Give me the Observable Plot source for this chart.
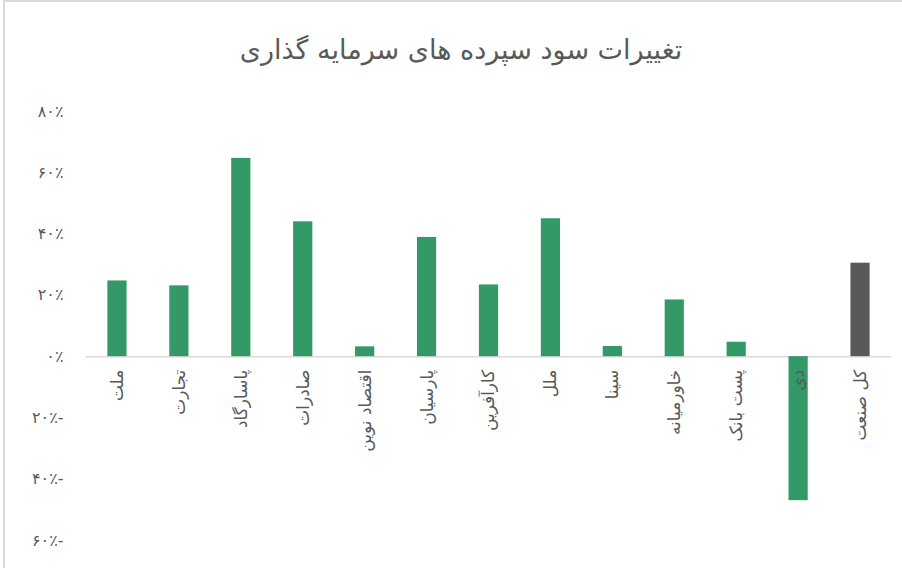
<!DOCTYPE html>
<html>
<head>
<meta charset="utf-8">
<script src="https://cdn.jsdelivr.net/npm/d3@7"></script>
<script src="https://cdn.jsdelivr.net/npm/@observablehq/plot@0.6"></script>
<style>
  html, body { margin: 0; padding: 0; background: #fff; }
  #wrap { position: relative; width: 902px; height: 568px; overflow: hidden; background: #fff; }
  #frame { position: absolute; left: 3px; top: 0; width: 910px; height: 580px; border-top: 2px solid #d9d9d9; border-left: 2px solid #d9d9d9; box-sizing: border-box; pointer-events: none; }
  #title { height: 95px; display: flex; align-items: center; justify-content: center; padding-left: 20px; padding-top: 4px; box-sizing: border-box;
           font-family: "DejaVu Sans", sans-serif; font-size: 27px; color: #595959; direction: rtl; }
</style>
</head>
<body>
<div id="wrap">
  <div id="frame"></div>
  <div id="title">تغییرات سود سپرده های سرمایه گذاری</div>
  <div id="chart"></div>
</div>
<script>
const banks = ["ملت", "تجارت", "پاسارگاد", "صادرات", "اقتصاد نوین", "پارسیان", "کارآفرین", "ملل", "سینا", "خاورمیانه", "پست بانک", "دی", "کل صنعت"];
const changes = [24.7, 23.1, 64.7, 44.0, 3.2, 38.9, 23.4, 45.0, 3.3, 18.5, 4.7, -47.0, 30.5];
const yTicks = [-60, -40, -20, 0, 20, 40, 60, 80];
const totalLabel = "کل صنعت";

const data = banks.map((b, i) => ({name: b, value: changes[i]}));
const fa = "۰۱۲۳۴۵۶۷۸۹";
const toFa = n => String(Math.abs(n)).replace(/\d/g, d => fa[+d]);
const fmt = v => toFa(v) + "٪" + (v < 0 ? "-" : "");

const chart = Plot.plot({
  width: 902,
  height: 473,
  marginTop: 16,
  marginBottom: 28,
  marginLeft: 86,
  marginRight: 11,
  style: {fontFamily: "DejaVu Sans, sans-serif", color: "#595959", background: "transparent"},
  x: {domain: banks, paddingInner: 0.69, paddingOuter: 0.345, round: false, axis: null},
  y: {domain: [-60, 80], axis: null},
  marks: [
    Plot.ruleY([0], {stroke: "#d9d9d9", strokeWidth: 1.5}),
    Plot.barY(data, {x: "name", y: "value", fill: d => d.name === totalLabel ? "#595959" : "#339966"}),
    Plot.axisY({ticks: yTicks, tickSize: 0, tickPadding: 23, tickFormat: fmt, fontSize: 16, fill: "#595959", label: null}),
    Plot.text(data, {x: "name", y: () => 0, text: "name", rotate: -90, textAnchor: "end", lineAnchor: "middle", dy: 13, fontSize: 17, fill: "#595959"})
  ]
});
document.getElementById("chart").appendChild(chart);
</script>
</body>
</html>
